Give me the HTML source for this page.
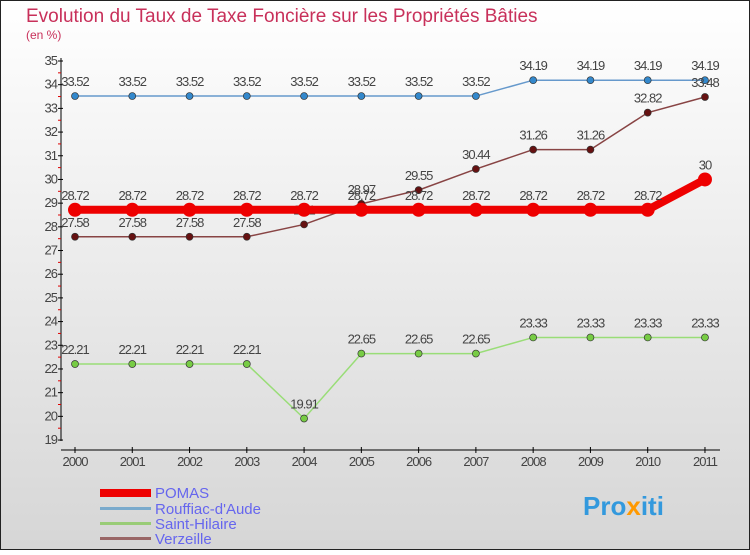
<!DOCTYPE html>
<html><head><meta charset="utf-8"><style>
body{margin:0;width:750px;height:550px;overflow:hidden;font-family:"Liberation Sans",sans-serif}
svg text{font-family:"Liberation Sans",sans-serif}
</style></head><body>
<svg id="c" width="750" height="550" xmlns="http://www.w3.org/2000/svg">
<defs><linearGradient id="bg" x1="0" y1="0" x2="0" y2="1"><stop offset="0" stop-color="#ffffff"/><stop offset="1" stop-color="#d6d6d6"/></linearGradient></defs>
<rect x="0.5" y="0.5" width="749" height="549" fill="url(#bg)" stroke="#222"/>
<text x="26" y="22" font-size="19" fill="#c8305a">Evolution du Taux de Taxe Foncière sur les Propriétés Bâties</text>
<text x="26" y="39" font-size="12" fill="#c8305a">(en %)</text>
<g id="axes"></g><g id="series"></g>
<g>
<rect x="100" y="489" width="51" height="8" fill="#ee0000"/>
<text x="155" y="498" font-size="15" fill="#6666ee">POMAS</text>
<rect x="100" y="507" width="51" height="3" fill="#7aaacc"/>
<text x="155" y="514" font-size="15" fill="#6666ee">Rouffiac-d'Aude</text>
<rect x="100" y="522" width="51" height="3" fill="#99cc77"/>
<text x="155" y="529" font-size="15" fill="#6666ee">Saint-Hilaire</text>
<rect x="100" y="537" width="51" height="3" fill="#996666"/>
<text x="155" y="544" font-size="15" fill="#6666ee">Verzeille</text>
</g>
<text x="583" y="515" font-size="26" font-weight="bold" fill="#3399dd">Pro<tspan fill="#ff9900">x</tspan>iti</text>
</svg>
<script>
const years=[2000,2001,2002,2003,2004,2005,2006,2007,2008,2009,2010,2011];
const pomas=[28.72,28.72,28.72,28.72,28.72,28.72,28.72,28.72,28.72,28.72,28.72,30];
const rouffiac=[33.52,33.52,33.52,33.52,33.52,33.52,33.52,33.52,34.19,34.19,34.19,34.19];
const hilaire=[22.21,22.21,22.21,22.21,19.91,22.65,22.65,22.65,23.33,23.33,23.33,23.33];
const verzeille=[27.58,27.58,27.58,27.58,28.1,28.97,29.55,30.44,31.26,31.26,32.82,33.48];
const yTicks=[19,20,21,22,23,24,25,26,27,28,29,30,31,32,33,34,35];
const NS="http://www.w3.org/2000/svg";
const X=i=>75+i*57.27, Y=v=>61+(35-v)*23.69;
function el(p,t,a){const e=document.createElementNS(NS,t);for(const k in a)e.setAttribute(k,a[k]);p.appendChild(e);return e;}
const ax=document.getElementById('axes');
let l=el(ax,'line',{x1:61,y1:58,x2:61,y2:441,stroke:'#000'});


l=el(ax,'line',{x1:61,y1:450,x2:720,y2:450,stroke:'#000'});


yTicks.forEach(v=>{
 el(ax,'line',{x1:58,x2:63,y1:Y(v),y2:Y(v),stroke:'#000'});
 if(v<35)el(ax,'line',{x1:58,x2:61,y1:Y(v+0.5),y2:Y(v+0.5),stroke:'#d00'});
 const t=el(ax,'text',{x:57,y:Y(v)+4,'font-size':13,fill:'#444','text-anchor':'end','letter-spacing':'-1'});
 t.textContent=v;
 
 
});
years.forEach((y,i)=>{
 el(ax,'line',{x1:X(i),x2:X(i),y1:447,y2:453,stroke:'#000'});
 const t=el(ax,'text',{x:X(i),y:466,'font-size':13,fill:'#444','text-anchor':'middle','letter-spacing':'-1'});
 t.textContent=y;
 
 
});
const sg=document.getElementById('series');
function series(name,vals,color,dot,w,r){
 const g=el(sg,'g',{});
 
 
 el(g,'polyline',{points:vals.map((v,i)=>X(i)+','+Y(v)).join(' '),fill:'none',stroke:color,'stroke-width':w});
 vals.forEach((v,i)=>{
  const c=el(g,'circle',{cx:X(i),cy:Y(v),r:r,fill:dot,stroke:'#333','stroke-width':r>5?0:0.7});
  
  
  const t=el(g,'text',{x:X(i),y:Y(v)-10,'font-size':13,fill:'#444','text-anchor':'middle','letter-spacing':'-1'});
  t.textContent=v;
  
  
 });
}
series('rouffiac',rouffiac,'#6699cc','#3388cc',1.5,3.5);
series('saint-hilaire',hilaire,'#99dd77','#77cc44',1.5,3.5);
series('verzeille',verzeille,'#884444','#661111',1.5,3.5);
series('pomas',pomas,'#ee0000','#ee0000',8,7);
</script>
</body></html>
